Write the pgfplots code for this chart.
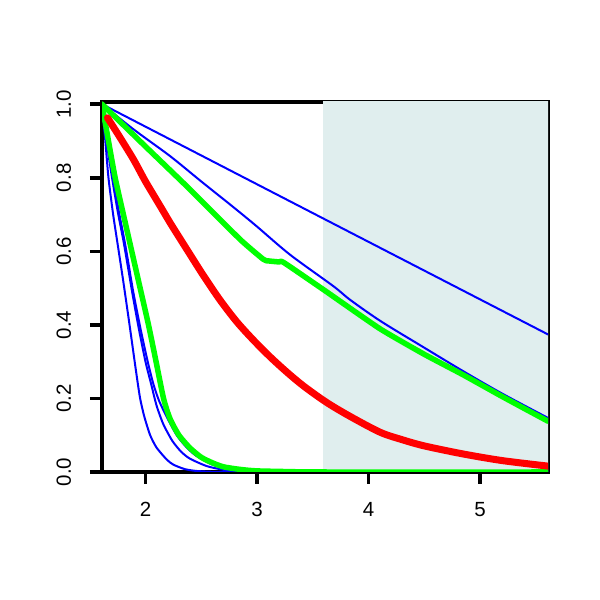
\documentclass[border=0pt]{standalone}
\usepackage{pgfplots}
\pgfplotsset{compat=1.18}
\usepackage{fontspec}
\setmainfont{Liberation Sans}
\definecolor{shade}{RGB}{224,238,238}
\begin{document}
\begin{tikzpicture}[x=1bp,y=1bp]
\useasboundingbox (0,0) rectangle (600,600);
\begin{axis}[
  at={(102bp,128bp)}, anchor=south west,
  width=446bp, height=370bp, scale only axis,
  xmin=1.61, xmax=5.61, ymin=0, ymax=1.006,
  axis line style={line width=3.5bp},
  xtick={2,3,4,5}, xticklabels={2,3,4,5},
  ytick={0,0.2,0.4,0.6,0.8,1.0}, yticklabels={0.0,0.2,0.4,0.6,0.8,1.0},
  xtick pos=bottom, ytick pos=left,
  tick align=outside,
  major tick length=12bp,
  tick style={black, line width=3.5bp},
  tick label style={font=\fontsize{20.5bp}{24bp}\selectfont, inner sep=0pt},
  yticklabel style={rotate=90, anchor=base},
  xticklabel style={anchor=north},
  yticklabel shift=19bp,
  xticklabel shift=18bp,
  every axis plot/.append style={line cap=round, line join=round},
]
\addplot[draw=none, fill=shade] coordinates {(3.595,1.2) (5.7,1.2)} \closedcycle;

% fast blue curves
\addplot[blue, line width=2bp, smooth, tension=0.4] coordinates {
(1.61,1.0) (1.64,0.90) (1.668,0.80) (1.71,0.70) (1.75,0.62) (1.80,0.52)
(1.857,0.40) (1.917,0.27) (1.952,0.20) (1.99,0.15) (2.042,0.10) (2.10,0.066)
(2.19,0.034) (2.25,0.020) (2.35,0.008) (2.45,0.003) (2.6,0.0005) (2.8,0) (5.61,0)};
\addplot[blue, line width=2bp, smooth, tension=0.4] coordinates {
(1.61,1.0) (1.66,0.88) (1.70,0.80) (1.75,0.71) (1.80,0.632) (1.83,0.58)
(1.88,0.49) (1.94,0.39) (2.00,0.30) (2.05,0.24) (2.10,0.18) (2.16,0.13)
(2.24,0.085) (2.32,0.055) (2.40,0.036) (2.55,0.016) (2.70,0.006) (2.85,0.002)
(3.0,0.0005) (3.2,0) (5.61,0)};
\addplot[blue, line width=2bp, smooth, tension=0.4] coordinates {
(1.61,1.0) (1.67,0.88) (1.71,0.80) (1.76,0.71) (1.81,0.632) (1.84,0.58)
(1.89,0.49) (1.955,0.39) (2.02,0.30) (2.07,0.24) (2.12,0.195) (2.19,0.15)
(2.28,0.10) (2.36,0.07) (2.45,0.045) (2.6,0.02) (2.75,0.009) (2.9,0.004)
(3.1,0.001) (3.4,0) (5.61,0)};
% slow blue curves
\addplot[blue, line width=2bp] coordinates {(1.61,1.0) (3.596,0.689) (5.61,0.374)};
\addplot[blue, line width=2bp, smooth, tension=0.5] coordinates {
(1.61,1.0) (1.9,0.93) (2.22,0.859) (2.5,0.79) (2.76,0.727) (2.91,0.69)
(3.013,0.664) (3.3,0.59) (3.686,0.505) (3.836,0.468) (4.11,0.41) (4.5,0.338)
(4.85,0.274) (5.2,0.213) (5.61,0.147)};
% green curves
\addplot[green, line width=5.5bp, smooth, tension=0.4] coordinates {
(1.61,1.0) (1.668,0.90) (1.728,0.80) (1.802,0.70) (1.877,0.60) (1.952,0.50)
(2.027,0.40) (2.095,0.30) (2.162,0.20) (2.22,0.145) (2.30,0.10) (2.40,0.065)
(2.50,0.04) (2.60,0.025) (2.70,0.014) (2.85,0.007) (3.0,0.003) (3.3,0.001)
(3.6,0) (5.61,0)};
\addplot[green, line width=5.5bp, smooth, tension=0.3] coordinates {
(1.61,1.0) (2.0,0.885) (2.4,0.768) (2.85,0.632) (3.058,0.578) (3.10,0.574)
(3.20,0.571) (3.238,0.570) (3.6,0.495) (4.1,0.39) (4.5,0.32) (4.85,0.264)
(5.2,0.205) (5.61,0.138)};
% red curve
\addplot[red, line width=7bp, smooth, tension=0.5] coordinates {
(1.659,0.963) (1.75,0.92) (1.892,0.85) (2.0,0.79) (2.132,0.723) (2.222,0.677)
(2.311,0.634) (2.386,0.598) (2.52,0.534) (2.67,0.467) (2.82,0.408) (2.97,0.358)
(3.118,0.313) (3.27,0.271) (3.417,0.234) (3.62,0.19) (3.836,0.151) (4.105,0.108)
(4.3,0.088) (4.5,0.071) (4.849,0.049) (5.2,0.031) (5.61,0.016)};
\end{axis}
\end{tikzpicture}
\end{document}
